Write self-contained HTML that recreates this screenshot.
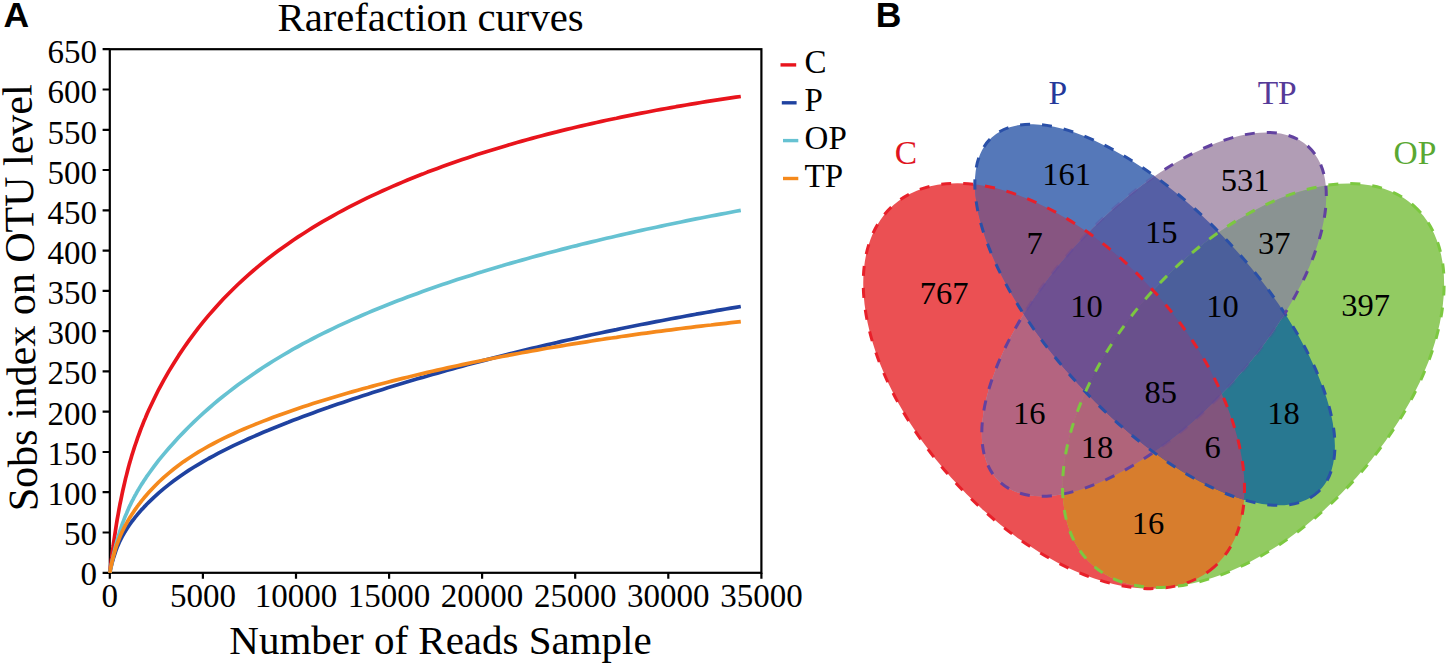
<!DOCTYPE html>
<html><head><meta charset="utf-8"><style>
html,body{margin:0;padding:0;background:#fff;}
body{width:1450px;height:665px;overflow:hidden;}
svg{display:block;}
text{font-family:"Liberation Serif",serif;}
.sans{font-family:"Liberation Sans",sans-serif;font-weight:bold;}
</style></head><body>
<svg width="1450" height="665" viewBox="0 0 1450 665">
<rect width="1450" height="665" fill="#fff"/>
<text class="sans" x="3.6" y="27.4" font-size="35.5">A</text>
<text x="430.6" y="30.5" font-size="40.7" text-anchor="middle">Rarefaction curves</text>
<rect x="109.8" y="49.2" width="651.6" height="523.6" fill="none" stroke="#000" stroke-width="2.2"/>
<text x="97" y="585.0" font-size="33" text-anchor="end">0</text>
<text x="97" y="544.9" font-size="33" text-anchor="end">50</text>
<text x="97" y="504.7" font-size="33" text-anchor="end">100</text>
<text x="97" y="464.6" font-size="33" text-anchor="end">150</text>
<text x="97" y="424.5" font-size="33" text-anchor="end">200</text>
<text x="97" y="384.3" font-size="33" text-anchor="end">250</text>
<text x="97" y="344.2" font-size="33" text-anchor="end">300</text>
<text x="97" y="304.1" font-size="33" text-anchor="end">350</text>
<text x="97" y="264.0" font-size="33" text-anchor="end">400</text>
<text x="97" y="223.8" font-size="33" text-anchor="end">450</text>
<text x="97" y="183.7" font-size="33" text-anchor="end">500</text>
<text x="97" y="143.6" font-size="33" text-anchor="end">550</text>
<text x="97" y="103.4" font-size="33" text-anchor="end">600</text>
<text x="97" y="63.3" font-size="33" text-anchor="end">650</text>
<text x="109.8" y="607.3" font-size="33" text-anchor="middle">0</text>
<text x="202.9" y="607.3" font-size="33" text-anchor="middle">5000</text>
<text x="296.0" y="607.3" font-size="33" text-anchor="middle">10000</text>
<text x="389.1" y="607.3" font-size="33" text-anchor="middle">15000</text>
<text x="482.1" y="607.3" font-size="33" text-anchor="middle">20000</text>
<text x="575.2" y="607.3" font-size="33" text-anchor="middle">25000</text>
<text x="668.3" y="607.3" font-size="33" text-anchor="middle">30000</text>
<text x="761.4" y="607.3" font-size="33" text-anchor="middle">35000</text>
<path d="M102.6,572.8H109.8 M102.6,532.5H109.8 M102.6,492.2H109.8 M102.6,452.0H109.8 M102.6,411.7H109.8 M102.6,371.4H109.8 M102.6,331.1H109.8 M102.6,290.9H109.8 M102.6,250.6H109.8 M102.6,210.3H109.8 M102.6,170.0H109.8 M102.6,129.8H109.8 M102.6,89.5H109.8 M102.6,49.2H109.8 M109.8,572.8V578.8 M202.9,572.8V578.8 M296.0,572.8V578.8 M389.1,572.8V578.8 M482.1,572.8V578.8 M575.2,572.8V578.8 M668.3,572.8V578.8 M761.4,572.8V578.8" stroke="#000" stroke-width="2.2" fill="none"/>
<text x="440.5" y="653.5" font-size="41" text-anchor="middle">Number of Reads Sample</text>
<text transform="translate(34.4 297.6) rotate(-90.8)" font-size="42" text-anchor="middle">Sobs index on OTU level</text>
<path d="M109.8,572.8 L110.2,569.6 L110.5,566.4 L110.9,563.4 L111.3,560.3 L111.7,557.4 L112.0,554.5 L112.4,551.6 L112.8,548.9 L113.2,546.1 L113.5,543.5 L114.5,537.0 L115.4,530.9 L116.3,525.0 L117.2,519.4 L118.2,514.1 L119.1,508.9 L120.0,504.0 L121.0,499.3 L121.9,494.8 L122.8,490.5 L123.8,486.3 L124.7,482.3 L125.6,478.4 L126.6,474.6 L127.5,471.0 L128.4,467.5 L129.3,464.1 L130.3,460.8 L131.2,457.7 L132.1,454.6 L133.1,451.5 L134.0,448.6 L134.9,445.8 L135.9,443.0 L136.8,440.3 L137.7,437.6 L138.7,435.0 L139.6,432.5 L140.5,430.0 L141.4,427.6 L142.4,425.2 L143.3,422.9 L144.2,420.6 L145.2,418.4 L146.1,416.2 L147.0,414.0 L148.9,409.8 L153.9,399.2 L158.8,389.3 L163.8,380.1 L168.8,371.4 L173.8,363.2 L178.7,355.4 L183.7,348.0 L188.7,340.9 L193.7,334.1 L198.6,327.6 L203.6,321.4 L208.6,315.4 L213.6,309.7 L218.5,304.2 L223.5,298.8 L228.5,293.7 L233.5,288.8 L238.4,284.0 L243.4,279.3 L248.4,274.9 L253.4,270.5 L258.3,266.4 L263.3,262.3 L268.3,258.3 L273.2,254.5 L278.2,250.8 L283.2,247.2 L288.2,243.7 L293.1,240.2 L298.1,236.9 L303.1,233.7 L308.1,230.5 L313.0,227.4 L318.0,224.4 L323.0,221.4 L328.0,218.6 L332.9,215.8 L337.9,213.0 L342.9,210.3 L347.9,207.7 L352.8,205.1 L357.8,202.6 L362.8,200.2 L367.8,197.7 L372.7,195.4 L377.7,193.1 L382.7,190.8 L387.6,188.6 L392.6,186.4 L397.6,184.2 L402.6,182.1 L407.5,180.0 L412.5,178.0 L417.5,176.0 L422.5,174.1 L427.4,172.1 L432.4,170.2 L437.4,168.4 L442.4,166.6 L447.3,164.8 L452.3,163.0 L457.3,161.3 L462.3,159.6 L467.2,157.9 L472.2,156.2 L477.2,154.6 L482.2,153.0 L487.1,151.4 L492.1,149.9 L497.1,148.4 L502.1,146.9 L507.0,145.4 L512.0,143.9 L517.0,142.5 L521.9,141.1 L526.9,139.7 L531.9,138.4 L536.9,137.0 L541.8,135.7 L546.8,134.4 L551.8,133.1 L556.8,131.9 L561.7,130.6 L566.7,129.4 L571.7,128.2 L576.7,127.0 L581.6,125.9 L586.6,124.7 L591.6,123.6 L596.6,122.5 L601.5,121.4 L606.5,120.3 L611.5,119.2 L616.5,118.2 L621.4,117.1 L626.4,116.1 L631.4,115.1 L636.3,114.1 L641.3,113.1 L646.3,112.2 L651.3,111.2 L656.2,110.3 L661.2,109.4 L666.2,108.5 L671.2,107.6 L676.1,106.7 L681.1,105.9 L686.1,105.0 L691.1,104.2 L696.0,103.4 L701.0,102.5 L706.0,101.7 L711.0,100.9 L715.9,100.2 L720.9,99.4 L725.9,98.6 L730.9,97.9 L735.8,97.2 L740.8,96.5" fill="none" stroke="#e8141c" stroke-width="3.7" stroke-linejoin="round"/>
<path d="M109.8,572.8 L110.2,571.0 L110.5,569.3 L110.9,567.7 L111.3,566.1 L111.7,564.6 L112.0,563.2 L112.4,561.8 L112.8,560.4 L113.2,559.1 L113.5,557.8 L114.5,554.8 L115.4,552.1 L116.3,549.5 L117.2,547.1 L118.2,544.9 L119.1,542.8 L120.0,540.8 L121.0,538.9 L121.9,537.1 L122.8,535.4 L123.8,533.8 L124.7,532.2 L125.6,530.7 L126.6,529.2 L127.5,527.8 L128.4,526.4 L129.3,525.0 L130.3,523.7 L131.2,522.4 L132.1,521.2 L133.1,520.0 L134.0,518.8 L134.9,517.6 L135.9,516.4 L136.8,515.3 L137.7,514.2 L138.7,513.1 L139.6,512.0 L140.5,511.0 L141.4,509.9 L142.4,508.9 L143.3,507.9 L144.2,506.9 L145.2,505.9 L146.1,504.9 L147.0,504.0 L148.9,502.1 L153.9,497.3 L158.8,492.8 L163.8,488.6 L168.8,484.6 L173.8,480.8 L178.7,477.2 L183.7,473.7 L188.7,470.4 L193.7,467.3 L198.6,464.3 L203.6,461.4 L208.6,458.5 L213.6,455.8 L218.5,453.2 L223.5,450.6 L228.5,448.2 L233.5,445.7 L238.4,443.4 L243.4,441.1 L248.4,438.8 L253.4,436.6 L258.3,434.5 L263.3,432.3 L268.3,430.3 L273.2,428.2 L278.2,426.2 L283.2,424.2 L288.2,422.3 L293.1,420.3 L298.1,418.5 L303.1,416.6 L308.1,414.7 L313.0,412.9 L318.0,411.1 L323.0,409.3 L328.0,407.6 L332.9,405.8 L337.9,404.1 L342.9,402.4 L347.9,400.7 L352.8,399.1 L357.8,397.4 L362.8,395.8 L367.8,394.2 L372.7,392.6 L377.7,391.0 L382.7,389.4 L387.6,387.8 L392.6,386.3 L397.6,384.8 L402.6,383.3 L407.5,381.8 L412.5,380.3 L417.5,378.8 L422.5,377.4 L427.4,375.9 L432.4,374.5 L437.4,373.1 L442.4,371.7 L447.3,370.3 L452.3,368.9 L457.3,367.5 L462.3,366.2 L467.2,364.8 L472.2,363.5 L477.2,362.2 L482.2,360.9 L487.1,359.6 L492.1,358.3 L497.1,357.0 L502.1,355.7 L507.0,354.5 L512.0,353.2 L517.0,352.0 L521.9,350.8 L526.9,349.6 L531.9,348.4 L536.9,347.2 L541.8,346.0 L546.8,344.9 L551.8,343.7 L556.8,342.6 L561.7,341.4 L566.7,340.3 L571.7,339.2 L576.7,338.1 L581.6,337.0 L586.6,335.9 L591.6,334.8 L596.6,333.7 L601.5,332.7 L606.5,331.6 L611.5,330.6 L616.5,329.6 L621.4,328.5 L626.4,327.5 L631.4,326.5 L636.3,325.5 L641.3,324.5 L646.3,323.6 L651.3,322.6 L656.2,321.6 L661.2,320.7 L666.2,319.7 L671.2,318.8 L676.1,317.9 L681.1,317.0 L686.1,316.0 L691.1,315.1 L696.0,314.2 L701.0,313.4 L706.0,312.5 L711.0,311.6 L715.9,310.7 L720.9,309.9 L725.9,309.0 L730.9,308.2 L735.8,307.4 L740.8,306.5" fill="none" stroke="#1f42a0" stroke-width="3.7" stroke-linejoin="round"/>
<path d="M109.8,572.8 L110.2,570.8 L110.5,568.8 L110.9,566.9 L111.3,565.1 L111.7,563.2 L112.0,561.5 L112.4,559.7 L112.8,558.0 L113.2,556.3 L113.5,554.7 L114.5,550.7 L115.4,547.0 L116.3,543.4 L117.2,540.0 L118.2,536.8 L119.1,533.7 L120.0,530.8 L121.0,527.9 L121.9,525.2 L122.8,522.6 L123.8,520.1 L124.7,517.7 L125.6,515.4 L126.6,513.2 L127.5,511.0 L128.4,508.9 L129.3,506.8 L130.3,504.9 L131.2,502.9 L132.1,501.1 L133.1,499.3 L134.0,497.5 L134.9,495.8 L135.9,494.1 L136.8,492.4 L137.7,490.8 L138.7,489.2 L139.6,487.6 L140.5,486.1 L141.4,484.6 L142.4,483.2 L143.3,481.7 L144.2,480.3 L145.2,478.9 L146.1,477.5 L147.0,476.1 L148.9,473.5 L153.9,466.7 L158.8,460.2 L163.8,454.1 L168.8,448.3 L173.8,442.7 L178.7,437.3 L183.7,432.1 L188.7,427.0 L193.7,422.2 L198.6,417.5 L203.6,412.9 L208.6,408.5 L213.6,404.2 L218.5,400.0 L223.5,396.0 L228.5,392.1 L233.5,388.2 L238.4,384.5 L243.4,380.9 L248.4,377.4 L253.4,373.9 L258.3,370.6 L263.3,367.3 L268.3,364.1 L273.2,361.0 L278.2,358.0 L283.2,355.0 L288.2,352.1 L293.1,349.2 L298.1,346.5 L303.1,343.7 L308.1,341.1 L313.0,338.5 L318.0,335.9 L323.0,333.4 L328.0,331.0 L332.9,328.6 L337.9,326.2 L342.9,323.9 L347.9,321.6 L352.8,319.4 L357.8,317.2 L362.8,315.0 L367.8,312.9 L372.7,310.8 L377.7,308.7 L382.7,306.7 L387.6,304.7 L392.6,302.7 L397.6,300.8 L402.6,298.9 L407.5,297.0 L412.5,295.2 L417.5,293.4 L422.5,291.6 L427.4,289.8 L432.4,288.0 L437.4,286.3 L442.4,284.6 L447.3,282.9 L452.3,281.3 L457.3,279.6 L462.3,278.0 L467.2,276.4 L472.2,274.9 L477.2,273.3 L482.2,271.8 L487.1,270.2 L492.1,268.7 L497.1,267.2 L502.1,265.8 L507.0,264.3 L512.0,262.9 L517.0,261.5 L521.9,260.1 L526.9,258.7 L531.9,257.3 L536.9,255.9 L541.8,254.6 L546.8,253.3 L551.8,252.0 L556.8,250.7 L561.7,249.4 L566.7,248.1 L571.7,246.8 L576.7,245.6 L581.6,244.3 L586.6,243.1 L591.6,241.9 L596.6,240.7 L601.5,239.5 L606.5,238.3 L611.5,237.2 L616.5,236.0 L621.4,234.9 L626.4,233.7 L631.4,232.6 L636.3,231.5 L641.3,230.4 L646.3,229.3 L651.3,228.2 L656.2,227.2 L661.2,226.1 L666.2,225.0 L671.2,224.0 L676.1,223.0 L681.1,222.0 L686.1,220.9 L691.1,219.9 L696.0,218.9 L701.0,218.0 L706.0,217.0 L711.0,216.0 L715.9,215.1 L720.9,214.1 L725.9,213.2 L730.9,212.2 L735.8,211.3 L740.8,210.4" fill="none" stroke="#66c2d2" stroke-width="3.7" stroke-linejoin="round"/>
<path d="M109.8,572.8 L110.2,570.8 L110.5,568.9 L110.9,567.0 L111.3,565.3 L111.7,563.5 L112.0,561.9 L112.4,560.3 L112.8,558.8 L113.2,557.3 L113.5,555.9 L114.5,552.5 L115.4,549.3 L116.3,546.4 L117.2,543.7 L118.2,541.2 L119.1,538.8 L120.0,536.5 L121.0,534.3 L121.9,532.3 L122.8,530.3 L123.8,528.4 L124.7,526.6 L125.6,524.9 L126.6,523.2 L127.5,521.5 L128.4,519.9 L129.3,518.4 L130.3,516.9 L131.2,515.4 L132.1,514.0 L133.1,512.6 L134.0,511.2 L134.9,509.8 L135.9,508.5 L136.8,507.2 L137.7,506.0 L138.7,504.7 L139.6,503.5 L140.5,502.3 L141.4,501.1 L142.4,499.9 L143.3,498.8 L144.2,497.7 L145.2,496.6 L146.1,495.5 L147.0,494.4 L148.9,492.3 L153.9,487.0 L158.8,482.0 L163.8,477.4 L168.8,473.1 L173.8,469.0 L178.7,465.2 L183.7,461.6 L188.7,458.2 L193.7,455.0 L198.6,451.9 L203.6,449.0 L208.6,446.2 L213.6,443.5 L218.5,440.9 L223.5,438.4 L228.5,436.0 L233.5,433.7 L238.4,431.4 L243.4,429.3 L248.4,427.1 L253.4,425.1 L258.3,423.1 L263.3,421.1 L268.3,419.2 L273.2,417.3 L278.2,415.5 L283.2,413.7 L288.2,411.9 L293.1,410.2 L298.1,408.5 L303.1,406.8 L308.1,405.2 L313.0,403.6 L318.0,402.0 L323.0,400.5 L328.0,398.9 L332.9,397.4 L337.9,395.9 L342.9,394.5 L347.9,393.0 L352.8,391.6 L357.8,390.2 L362.8,388.8 L367.8,387.5 L372.7,386.1 L377.7,384.8 L382.7,383.5 L387.6,382.2 L392.6,380.9 L397.6,379.6 L402.6,378.4 L407.5,377.2 L412.5,376.0 L417.5,374.8 L422.5,373.6 L427.4,372.4 L432.4,371.3 L437.4,370.1 L442.4,369.0 L447.3,367.9 L452.3,366.8 L457.3,365.7 L462.3,364.6 L467.2,363.6 L472.2,362.5 L477.2,361.5 L482.2,360.5 L487.1,359.5 L492.1,358.5 L497.1,357.5 L502.1,356.5 L507.0,355.6 L512.0,354.6 L517.0,353.7 L521.9,352.8 L526.9,351.9 L531.9,351.0 L536.9,350.1 L541.8,349.2 L546.8,348.3 L551.8,347.5 L556.8,346.6 L561.7,345.8 L566.7,345.0 L571.7,344.2 L576.7,343.4 L581.6,342.6 L586.6,341.8 L591.6,341.0 L596.6,340.2 L601.5,339.5 L606.5,338.7 L611.5,338.0 L616.5,337.3 L621.4,336.5 L626.4,335.8 L631.4,335.1 L636.3,334.4 L641.3,333.7 L646.3,333.1 L651.3,332.4 L656.2,331.7 L661.2,331.1 L666.2,330.4 L671.2,329.8 L676.1,329.2 L681.1,328.5 L686.1,327.9 L691.1,327.3 L696.0,326.7 L701.0,326.1 L706.0,325.5 L711.0,325.0 L715.9,324.4 L720.9,323.8 L725.9,323.3 L730.9,322.7 L735.8,322.2 L740.8,321.6" fill="none" stroke="#f5891c" stroke-width="3.7" stroke-linejoin="round"/>
<path d="M780.5,64.9H796.2" stroke="#e8141c" stroke-width="3.4"/>
<text x="804.6" y="73.2" font-size="33">C</text>
<path d="M781.8,102.8H796.6" stroke="#1f42a0" stroke-width="3.4"/>
<text x="804.6" y="111.0" font-size="33">P</text>
<path d="M783,140.6H798.3" stroke="#66c2d2" stroke-width="3.4"/>
<text x="804.6" y="148.9" font-size="33">OP</text>
<path d="M783,178.5H798.3" stroke="#f5891c" stroke-width="3.4"/>
<text x="804.6" y="186.8" font-size="33">TP</text>
<text class="sans" x="875.8" y="27.2" font-size="35.5">B</text>
<defs>
<clipPath id="kC"><ellipse cx="1053.88" cy="385.96" rx="241.75" ry="137.76" transform="rotate(48.45 1053.88 385.96)"/></clipPath>
<clipPath id="kP"><ellipse cx="1154.88" cy="314.75" rx="240.90" ry="103.44" transform="rotate(47.37 1154.88 314.75)"/></clipPath>
<clipPath id="kTP"><ellipse cx="1154.04" cy="314.32" rx="227.86" ry="104.10" transform="rotate(-47.38 1154.04 314.32)"/></clipPath>
<clipPath id="kOP"><ellipse cx="1253.32" cy="385.55" rx="241.02" ry="138.20" transform="rotate(-48.23 1253.32 385.55)"/></clipPath>
</defs>
<ellipse cx="1053.88" cy="385.96" rx="241.75" ry="137.76" transform="rotate(48.45 1053.88 385.96)" fill="#eb5053"/>
<ellipse cx="1154.88" cy="314.75" rx="240.90" ry="103.44" transform="rotate(47.37 1154.88 314.75)" fill="#5578b9"/>
<ellipse cx="1154.04" cy="314.32" rx="227.86" ry="104.10" transform="rotate(-47.38 1154.04 314.32)" fill="#b19db5"/>
<ellipse cx="1253.32" cy="385.55" rx="241.02" ry="138.20" transform="rotate(-48.23 1253.32 385.55)" fill="#92cb62"/>
<g clip-path="url(#kC)"><ellipse cx="1154.88" cy="314.75" rx="240.90" ry="103.44" transform="rotate(47.37 1154.88 314.75)" fill="#875581"/></g>
<g clip-path="url(#kC)"><ellipse cx="1154.04" cy="314.32" rx="227.86" ry="104.10" transform="rotate(-47.38 1154.04 314.32)" fill="#b46480"/></g>
<g clip-path="url(#kC)"><ellipse cx="1253.32" cy="385.55" rx="241.02" ry="138.20" transform="rotate(-48.23 1253.32 385.55)" fill="#d77d2d"/></g>
<g clip-path="url(#kP)"><ellipse cx="1154.04" cy="314.32" rx="227.86" ry="104.10" transform="rotate(-47.38 1154.04 314.32)" fill="#555fa5"/></g>
<g clip-path="url(#kP)"><ellipse cx="1253.32" cy="385.55" rx="241.02" ry="138.20" transform="rotate(-48.23 1253.32 385.55)" fill="#287891"/></g>
<g clip-path="url(#kTP)"><ellipse cx="1253.32" cy="385.55" rx="241.02" ry="138.20" transform="rotate(-48.23 1253.32 385.55)" fill="#8a9392"/></g>
<g clip-path="url(#kP)"><g clip-path="url(#kC)"><ellipse cx="1154.04" cy="314.32" rx="227.86" ry="104.10" transform="rotate(-47.38 1154.04 314.32)" fill="#6e5091"/></g></g>
<g clip-path="url(#kP)"><g clip-path="url(#kC)"><ellipse cx="1253.32" cy="385.55" rx="241.02" ry="138.20" transform="rotate(-48.23 1253.32 385.55)" fill="#82557d"/></g></g>
<g clip-path="url(#kTP)"><g clip-path="url(#kC)"><ellipse cx="1253.32" cy="385.55" rx="241.02" ry="138.20" transform="rotate(-48.23 1253.32 385.55)" fill="#b0647a"/></g></g>
<g clip-path="url(#kTP)"><g clip-path="url(#kP)"><ellipse cx="1253.32" cy="385.55" rx="241.02" ry="138.20" transform="rotate(-48.23 1253.32 385.55)" fill="#4b5f9b"/></g></g>
<g clip-path="url(#kTP)"><g clip-path="url(#kP)"><g clip-path="url(#kC)"><ellipse cx="1253.32" cy="385.55" rx="241.02" ry="138.20" transform="rotate(-48.23 1253.32 385.55)" fill="#69508c"/></g></g></g>
<mask id="mNotP" maskUnits="userSpaceOnUse" x="0" y="0" width="1450" height="665"><rect width="1450" height="665" fill="#fff"/><ellipse cx="1154.88" cy="314.75" rx="240.90" ry="103.44" transform="rotate(47.37 1154.88 314.75)" fill="#000"/></mask>
<ellipse cx="1053.88" cy="385.96" rx="241.75" ry="137.76" transform="rotate(48.45 1053.88 385.96)" fill="none" stroke="#e8202a" stroke-width="3" stroke-dasharray="10 12"/>
<ellipse cx="1154.88" cy="314.75" rx="240.90" ry="103.44" transform="rotate(47.37 1154.88 314.75)" fill="none" stroke="#2a50a8" stroke-width="3" stroke-dasharray="10 12"/>
<g mask="url(#mNotP)"><ellipse cx="1154.04" cy="314.32" rx="227.86" ry="104.10" transform="rotate(-47.38 1154.04 314.32)" fill="none" stroke="#6242a0" stroke-width="3" stroke-dasharray="10 12"/></g>
<g clip-path="url(#kP)" opacity="0.3"><ellipse cx="1154.04" cy="314.32" rx="227.86" ry="104.10" transform="rotate(-47.38 1154.04 314.32)" fill="none" stroke="#6242a0" stroke-width="3" stroke-dasharray="10 12"/></g>
<ellipse cx="1253.32" cy="385.55" rx="241.02" ry="138.20" transform="rotate(-48.23 1253.32 385.55)" fill="none" stroke="#7cc840" stroke-width="3" stroke-dasharray="10 12"/>
<text x="906" y="164" font-size="33.5" text-anchor="middle" fill="#e0141e">C</text>
<text x="1057.9" y="104" font-size="33.5" text-anchor="middle" fill="#24389a">P</text>
<text x="1277.2" y="104" font-size="33.5" text-anchor="middle" fill="#553a98">TP</text>
<text x="1414.9" y="163.6" font-size="33.5" text-anchor="middle" fill="#5aa832">OP</text>
<text x="1066.7" y="185.2" font-size="32.5" text-anchor="middle">161</text>
<text x="1034.6" y="254.2" font-size="32.5" text-anchor="middle">7</text>
<text x="944.2" y="304.3" font-size="32.5" text-anchor="middle">767</text>
<text x="1245.1" y="191.1" font-size="32.5" text-anchor="middle">531</text>
<text x="1161.3" y="242.5" font-size="32.5" text-anchor="middle">15</text>
<text x="1274.2" y="254.2" font-size="32.5" text-anchor="middle">37</text>
<text x="1086.6" y="317" font-size="32.5" text-anchor="middle">10</text>
<text x="1222.4" y="316.7" font-size="32.5" text-anchor="middle">10</text>
<text x="1365.5" y="316.4" font-size="32.5" text-anchor="middle">397</text>
<text x="1160.8" y="403.2" font-size="32.5" text-anchor="middle">85</text>
<text x="1029.2" y="423.9" font-size="32.5" text-anchor="middle">16</text>
<text x="1283.6" y="423.9" font-size="32.5" text-anchor="middle">18</text>
<text x="1097.1" y="458" font-size="32.5" text-anchor="middle">18</text>
<text x="1212.6" y="458" font-size="32.5" text-anchor="middle">6</text>
<text x="1147.9" y="534.2" font-size="32.5" text-anchor="middle">16</text>
</svg>
</body></html>
